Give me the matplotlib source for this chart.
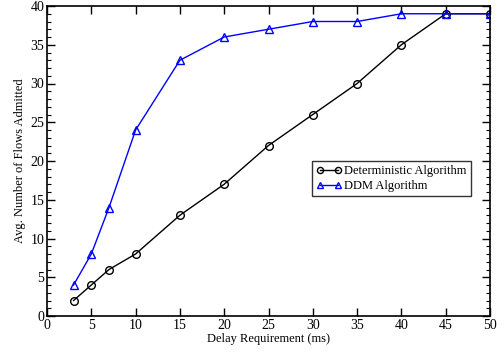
import matplotlib
matplotlib.use("Agg")
import matplotlib.pyplot as plt
from matplotlib.ticker import MultipleLocator

plt.rcParams["font.family"] = ["Liberation Serif", "DejaVu Serif"]

delay_ms = [3, 5, 7, 10, 15, 20, 25, 30, 35, 40, 45, 50]
deterministic = [2, 4, 6, 8, 13, 17, 22, 26, 30, 35, 39, 39]
ddm = [4, 8, 14, 24, 33, 36, 37, 38, 38, 39, 39, 39]

fig = plt.figure(figsize=(5.04, 3.52), dpi=100)
ax = fig.add_axes([47 / 504, 1 - 316 / 352, 443 / 504, 310 / 352])

ax.plot(delay_ms, deterministic, color="black", lw=1.0, marker="o", ms=5.5,
        mfc="none", mew=1.0, label="Deterministic Algorithm")
ax.plot(delay_ms, ddm, color="#0000ff", lw=1.0, marker="^", ms=5.5,
        mfc="none", mew=1.0, label="DDM Algorithm")

ax.set_xlim(0, 50)
ax.set_ylim(0, 40)
ax.xaxis.set_major_locator(MultipleLocator(5))
ax.yaxis.set_major_locator(MultipleLocator(5))
ax.yaxis.set_minor_locator(MultipleLocator(1))
ax.tick_params(which="both", direction="in", top=True, right=True, labelsize=10, pad=2)
ax.tick_params(which="major", length=6, width=1)
ax.tick_params(which="minor", length=3, width=0.8)
for s in ax.spines.values():
    s.set_linewidth(1.2)

ax.set_xlabel("Delay Requirement (ms)", fontsize=9, labelpad=1)
ax.set_ylabel("Avg. Number of Flows Admitted", fontsize=9, labelpad=3)

leg = ax.legend(loc="upper left", bbox_to_anchor=(265 / 443, 1 - 155 / 310), fontsize=9,
                frameon=True, fancybox=False, edgecolor="black", numpoints=2,
                handlelength=2.0, markerscale=0.8, borderpad=0.35, labelspacing=0.2,
                handletextpad=0.25, borderaxespad=0)
leg.get_frame().set_linewidth(1.0)

fig.savefig("out.png", dpi=100)
